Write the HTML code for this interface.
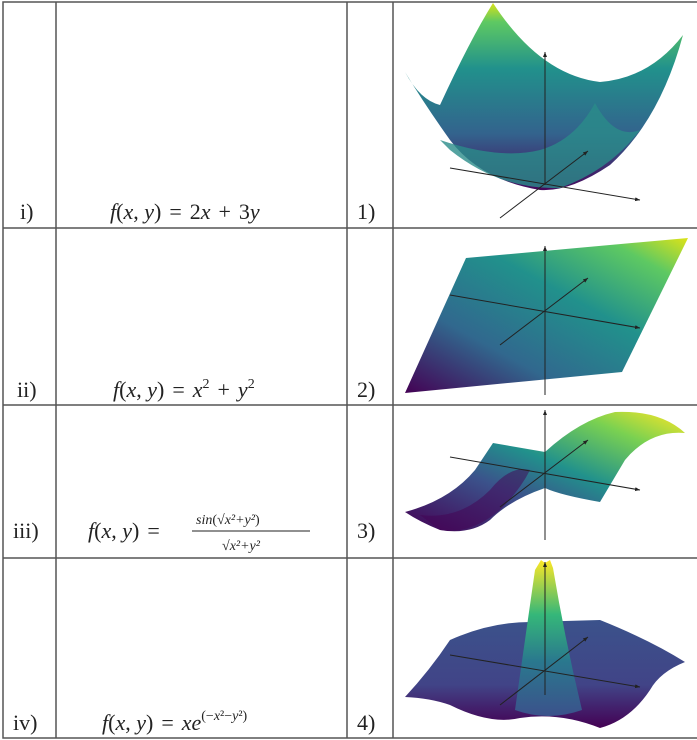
<!DOCTYPE html>
<html><head><meta charset="utf-8"><style>
body{margin:0;background:#fff;width:697px;height:740px;overflow:hidden;font-family:"Liberation Serif",serif}
svg{position:absolute;left:0;top:0}
text{font-family:"Liberation Serif",serif;fill:#222}
</style></head><body>
<svg width="697" height="740">
<defs>
<linearGradient id="g1" x1="0" y1="1" x2="0" y2="0"><stop offset="0" stop-color="#46085c"/><stop offset="0.3" stop-color="#33638d"/><stop offset="0.65" stop-color="#21918c"/><stop offset="0.9" stop-color="#5ec962"/><stop offset="1" stop-color="#d8e219"/></linearGradient>
<linearGradient id="g2" x1="0" y1="1" x2="1" y2="0"><stop offset="0" stop-color="#440154"/><stop offset="0.3" stop-color="#31688e"/><stop offset="0.6" stop-color="#21918c"/><stop offset="0.85" stop-color="#5ec962"/><stop offset="1" stop-color="#dde318"/></linearGradient>
<linearGradient id="g3" x1="0" y1="1" x2="1" y2="0"><stop offset="0" stop-color="#440154"/><stop offset="0.35" stop-color="#3b528b"/><stop offset="0.55" stop-color="#21918c"/><stop offset="0.8" stop-color="#7ad151"/><stop offset="1" stop-color="#fde725"/></linearGradient>
<linearGradient id="g4" x1="0" y1="0" x2="0" y2="1"><stop offset="0" stop-color="#fde725"/><stop offset="0.35" stop-color="#35b779"/><stop offset="0.65" stop-color="#2a788e"/><stop offset="1" stop-color="#3b528b"/></linearGradient>
<linearGradient id="g5" x1="0" y1="0" x2="0" y2="1"><stop offset="0" stop-color="#3b528b"/><stop offset="0.6" stop-color="#414487"/><stop offset="1" stop-color="#440154"/></linearGradient>
<marker id="ar" markerWidth="6" markerHeight="6" refX="5" refY="3" orient="auto"><path d="M0,1 L5,3 L0,5z" fill="#222"/></marker>
</defs>
<g stroke="#555" stroke-width="1.5" fill="none">
<rect x="3" y="2" width="700" height="736"/>
<line x1="56" y1="2" x2="56" y2="738"/><line x1="347" y1="2" x2="347" y2="738"/><line x1="393" y1="2" x2="393" y2="738"/>
<line x1="3" y1="228" x2="697" y2="228"/><line x1="3" y1="405" x2="697" y2="405"/><line x1="3" y1="558" x2="697" y2="558"/>
</g>
<g font-size="22">
<text x="20" y="219">i)</text>
<text x="17" y="397">ii)</text>
<text x="13" y="538">iii)</text>
<text x="13" y="730">iv)</text>
<text x="357" y="219">1)</text>
<text x="357" y="397">2)</text>
<text x="357" y="538">3)</text>
<text x="357" y="730">4)</text>
<text x="110" y="219"><tspan font-style="italic">f</tspan>(<tspan font-style="italic">x</tspan>, <tspan font-style="italic">y</tspan>)<tspan dx="8">=</tspan><tspan dx="8">2</tspan><tspan font-style="italic">x</tspan><tspan dx="8">+</tspan><tspan dx="8">3</tspan><tspan font-style="italic">y</tspan></text>
<text x="113" y="397"><tspan font-style="italic">f</tspan>(<tspan font-style="italic">x</tspan>, <tspan font-style="italic">y</tspan>)<tspan dx="8">=</tspan><tspan dx="8" font-style="italic">x</tspan><tspan font-size="14" dy="-9">2</tspan><tspan dy="9" dx="8">+</tspan><tspan dx="8" font-style="italic">y</tspan><tspan font-size="14" dy="-9">2</tspan></text>
<g>
<text x="88" y="538"><tspan font-style="italic">f</tspan>(<tspan font-style="italic">x</tspan>, <tspan font-style="italic">y</tspan>)<tspan dx="8">=</tspan></text>
<text x="196" y="524" font-size="14"><tspan font-style="italic">sin</tspan>(√<tspan font-style="italic">x²+y²</tspan>)</text>
<line x1="192" y1="531" x2="310" y2="531" stroke="#222"/>
<text x="222" y="550" font-size="14">√<tspan font-style="italic">x²+y²</tspan></text>
</g>
<text x="102" y="730"><tspan font-style="italic">f</tspan>(<tspan font-style="italic">x</tspan>, <tspan font-style="italic">y</tspan>)<tspan dx="8">=</tspan><tspan dx="8" font-style="italic">xe</tspan><tspan font-size="14" dy="-10">(−<tspan font-style="italic">x</tspan>²−<tspan font-style="italic">y</tspan>²)</tspan></text>
</g>
<g>
<path d="M405,72 Q420,100 440,105 Q470,40 493,3 Q540,75 600,82 Q650,78 683,35 Q660,120 610,165 Q570,192 540,190 Q480,180 450,140 Q425,105 405,72z" fill="url(#g1)"/>
<path d="M440,140 Q500,160 540,150 Q575,140 595,103 Q615,140 640,130 Q610,170 560,188 Q500,190 450,150z" fill="#2a8c8a" opacity="0.8"/>
<line x1="545" y1="185" x2="545" y2="52" stroke="#222" marker-end="url(#ar)"/>
<line x1="450" y1="168" x2="640" y2="200" stroke="#222" marker-end="url(#ar)"/>
<line x1="500" y1="218" x2="588" y2="151" stroke="#222" marker-end="url(#ar)"/>
</g>
<g>
<path d="M405,393 L466,258 L688,238 L622,372z" fill="url(#g2)"/>
<line x1="545" y1="395" x2="545" y2="246" stroke="#222" marker-end="url(#ar)"/>
<line x1="450" y1="295" x2="640" y2="328" stroke="#222" marker-end="url(#ar)"/>
<line x1="500" y1="345" x2="588" y2="278" stroke="#222" marker-end="url(#ar)"/>
</g>
<g>
<path d="M405,512 Q450,500 475,470 L493,443 L545,452 Q580,420 615,412 Q660,410 685,433 Q650,430 625,460 L600,502 Q560,495 545,488 Q510,500 490,520 Q470,535 440,530 Q420,522 405,512z" fill="url(#g3)"/>
<path d="M420,515 Q460,520 490,490 Q510,465 530,470 Q520,490 500,510 Q470,535 440,530z" fill="#440154" opacity="0.5"/>
<line x1="545" y1="540" x2="545" y2="410" stroke="#222" marker-end="url(#ar)"/>
<line x1="450" y1="457" x2="640" y2="490" stroke="#222" marker-end="url(#ar)"/>
<line x1="500" y1="507" x2="588" y2="440" stroke="#222" marker-end="url(#ar)"/>
</g>
<g>
<path d="M405,697 Q430,670 450,640 Q490,622 530,622 L600,620 Q650,640 685,662 Q660,672 650,690 Q630,720 600,728 Q560,712 520,718 Q490,725 450,705 Q430,698 405,697z" fill="url(#g5)"/>
<path d="M515,710 Q525,640 535,570 L541,560 L545,563 L550,560 L553,568 Q565,640 582,710 Q548,722 515,710z" fill="url(#g4)"/>
<line x1="545" y1="695" x2="545" y2="562" stroke="#222" marker-end="url(#ar)"/>
<line x1="450" y1="655" x2="640" y2="687" stroke="#222" marker-end="url(#ar)"/>
<line x1="500" y1="705" x2="588" y2="637" stroke="#222" marker-end="url(#ar)"/>
</g>
</svg>
</body></html>
